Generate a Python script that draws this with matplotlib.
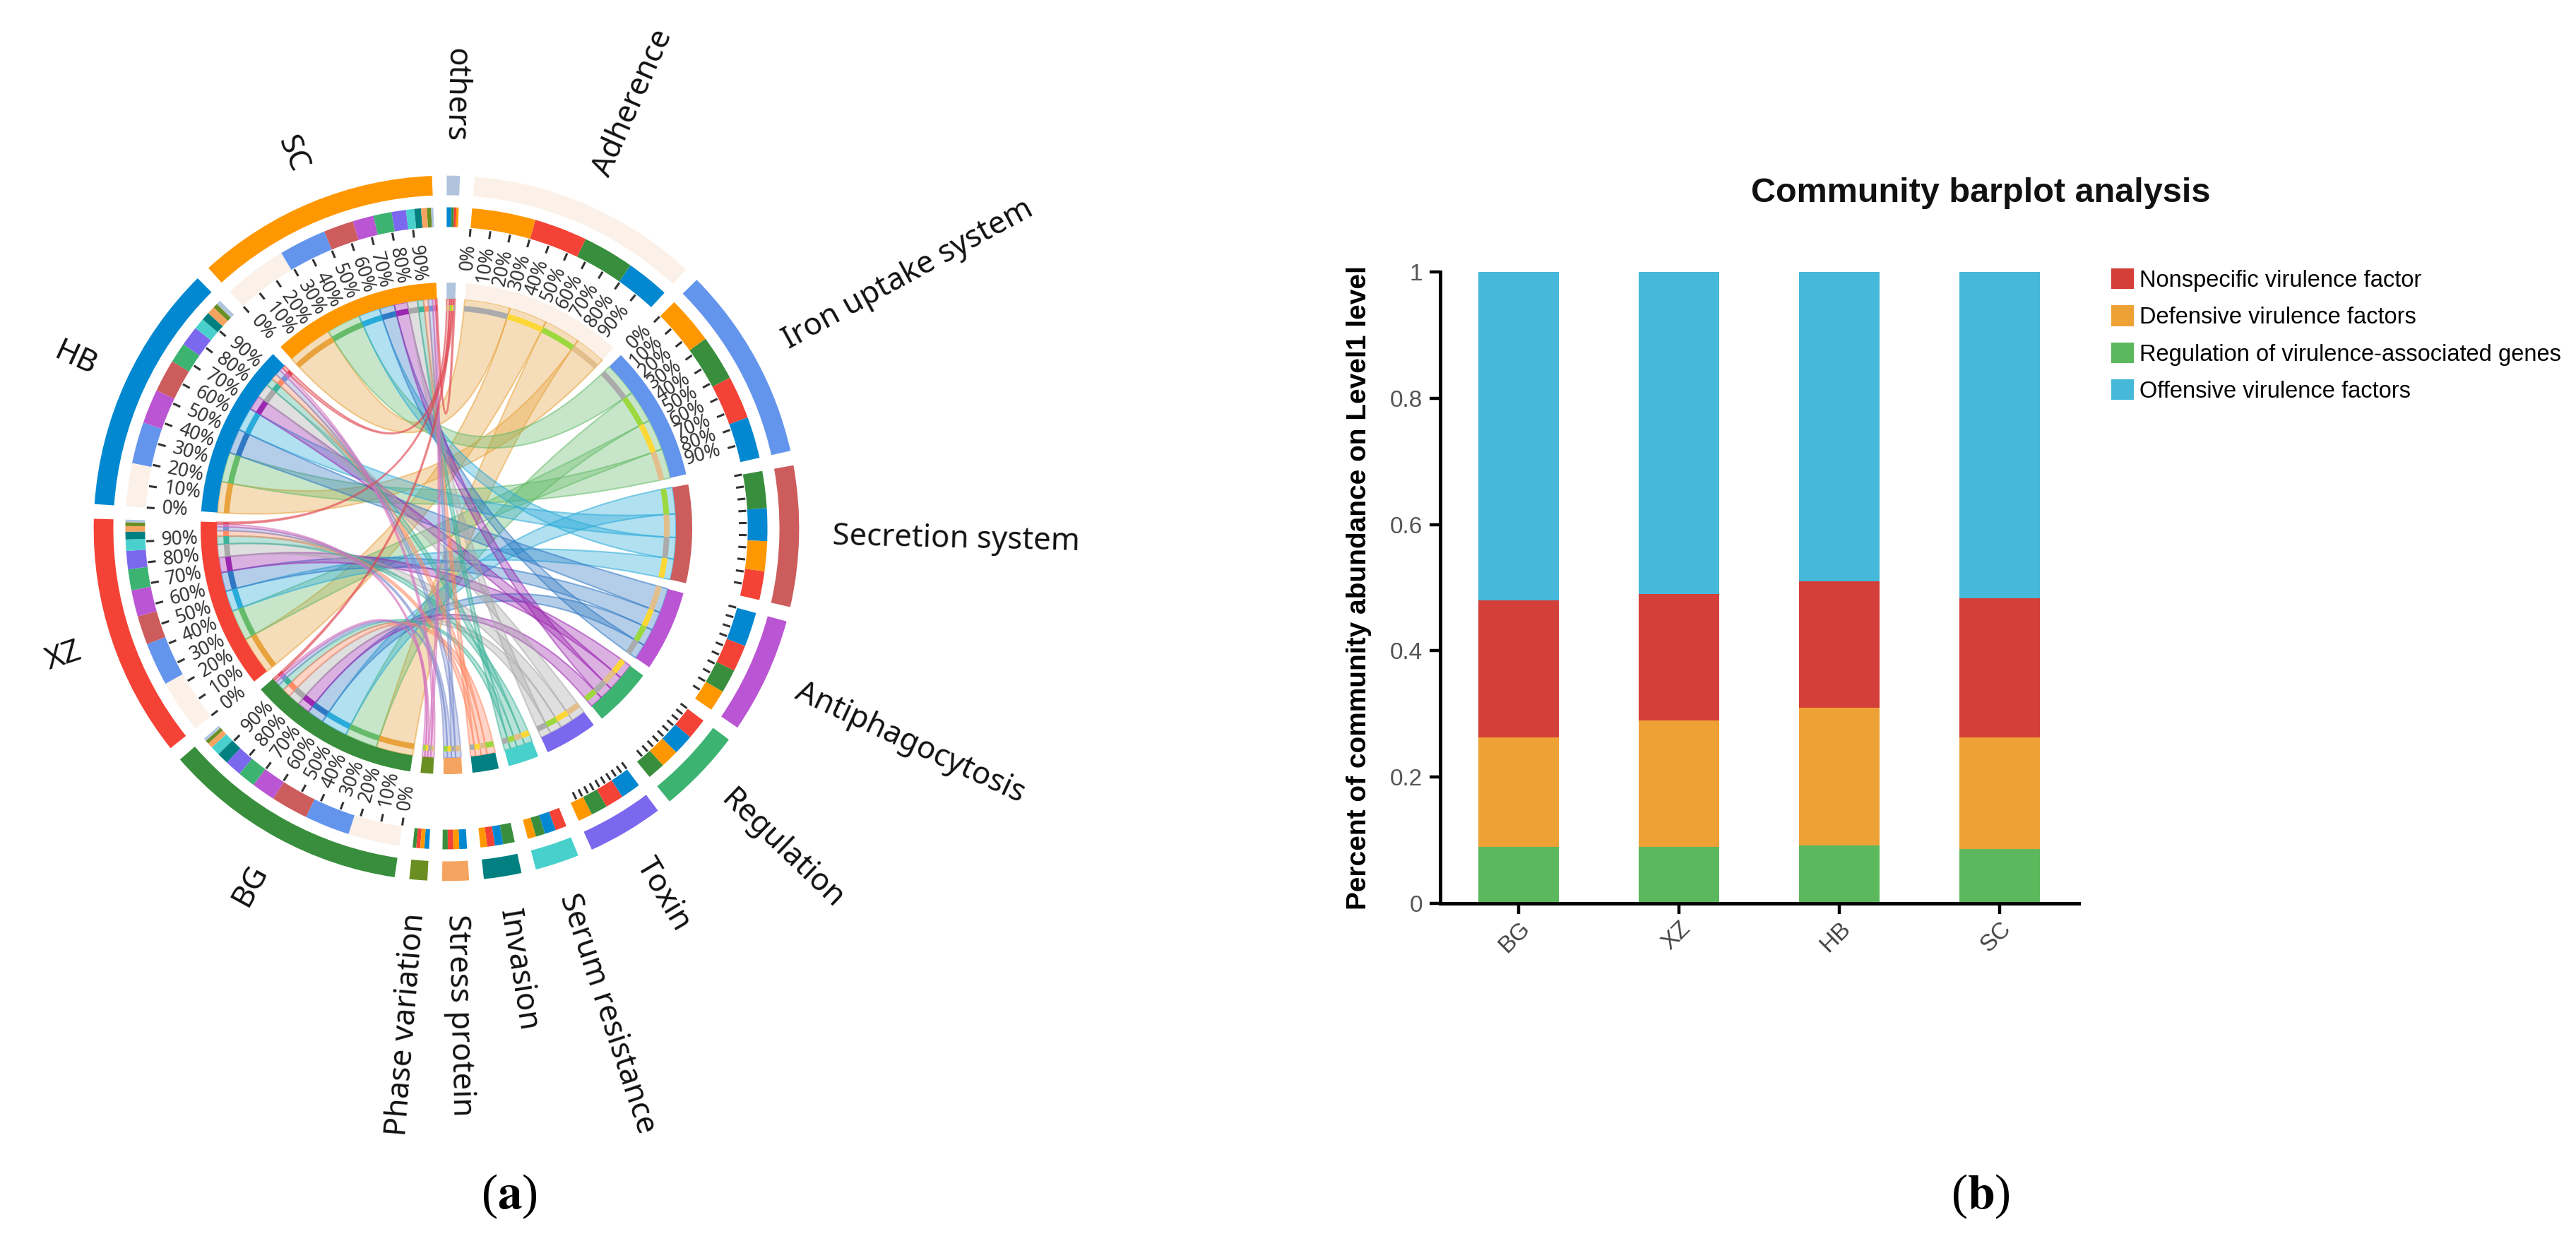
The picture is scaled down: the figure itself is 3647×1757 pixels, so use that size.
import matplotlib
matplotlib.use("Agg")
import matplotlib.pyplot as plt
import numpy as np
from matplotlib.colors import to_rgba
from matplotlib.patches import Wedge, PathPatch
from matplotlib.path import Path

W, H = 3648, 1757

# chord panel data, abundance of each function per sample
samples = ["BG", "XZ", "HB", "SC"]
categories = ["Adherence", "Iron uptake system", "Secretion system", "Antiphagocytosis",
              "Regulation", "Toxin", "Serum resistance", "Invasion", "Stress protein",
              "Phase variation", "others"]
adherence = [9.3, 9.6, 7.8, 11.5]
iron_uptake = [8.2, 7.8, 7.5, 8.6]
secretion = [6.7, 5.2, 5.9, 5.4]
antiphagocytosis = [4.3, 4.8, 6.2, 3.8]
regulation = [3.2, 3.8, 3.65, 3.3]
toxin = [3.0, 3.3, 3.6, 2.6]
serum = [1.7, 2.05, 2.0, 1.5]
invasion = [2.1, 1.4, 1.5, 1.2]
stress = [0.95, 1.0, 1.4, 1.05]
phase = [0.65, 0.7, 0.85, 0.75]
others = [0.5, 0.45, 0.8, 0.4]
matrix = np.array([adherence, iron_uptake, secretion, antiphagocytosis, regulation, toxin,
                   serum, invasion, stress, phase, others])

sample_colors = ["#388E3C", "#F44336", "#0288D1", "#FF9800"]
sample_strip = ["#9CD83E", "#FDD835", "#E2BE8C", "#ABABAB"]
cat_colors = ["#FBF1E8", "#6495ED", "#CD5C5C", "#BA55D3", "#3CB371", "#7B68EE",
              "#48D1CC", "#008080", "#F4A460", "#6B8E23", "#B0C4DE"]
ribbon_colors = ["#E8A33D", "#66BB6A", "#29ABD9", "#2F78C4", "#9C27B0", "#A8A8A8",
                 "#3DB39A", "#FF8A65", "#7E8FD0", "#D572BE", "#E0444E"]

# bar panel data
bar_samples = ["BG", "XZ", "HB", "SC"]
bar_green = [0.09, 0.09, 0.092, 0.086]
bar_orange = [0.173, 0.2, 0.218, 0.177]
bar_red = [0.217, 0.2, 0.2, 0.22]
bar_blue = [0.52, 0.51, 0.49, 0.517]
bar_names = ["Nonspecific virulence factor", "Defensive virulence factors",
             "Regulation of virulence-associated genes", "Offensive virulence factors"]

plt.rcParams["font.family"] = ["Noto Sans", "DejaVu Sans"]
fig = plt.figure(figsize=(W / 100, H / 100), dpi=100)

# whole figure axes for the chord diagram, data unit = inner band radius
R, cx, cy = 348.0, 632.0, 748.0
ax = fig.add_axes([0, 0, 1, 1])
ax.set_xlim(-cx / R, (W - cx) / R)
ax.set_ylim(-(H - cy) / R, cy / R)
ax.axis("off")

GAP = 2.4
START = 4.6
order_names = categories[:-1] + samples + categories[-1:]
n_cat = len(categories)
scale = (360 - GAP * 15) / (2 * matrix.sum())


def polar(theta, r):
    t = np.radians(theta)
    return r * np.sin(t), r * np.cos(t)


def band(theta0, theta1, r0, r1, color, z=3):
    ax.add_patch(Wedge((0, 0), r1, 90 - theta1, 90 - theta0, width=r1 - r0, facecolor=color,
                       edgecolor="none", zorder=z))


# sector extents, clockwise from the top
spans = {}
pos = START
for name in order_names:
    if name in samples:
        size = matrix[:, samples.index(name)].sum()
    else:
        size = matrix[categories.index(name)].sum()
    spans[name] = (pos, pos + size * scale)
    pos += size * scale + GAP

slots = {}
for i, name in enumerate(categories):
    p0 = spans[name][0]
    for j in np.argsort(-matrix[i]):
        p1 = p0 + matrix[i, j] * scale
        slots[("cat", i, j)] = (p0, p1)
        p0 = p1
for j, name in enumerate(samples):
    p0 = spans[name][0]
    for i in np.argsort(-matrix[:, j]):
        p1 = p0 + matrix[i, j] * scale
        slots[("sam", i, j)] = (p0, p1)
        p0 = p1

# ribbons
RB = 0.934
for i in range(n_cat):
    for j in range(len(samples)):
        a0, a1 = slots[("cat", i, j)]
        b0, b1 = slots[("sam", i, j)]
        verts = []
        codes = []
        for k, t in enumerate(np.linspace(a0, a1, 24)):
            verts.append(polar(t, RB))
            codes.append(Path.MOVETO if k == 0 else Path.LINETO)
        verts += [(0, 0), polar(b0, RB)]
        codes += [Path.CURVE3, Path.CURVE3]
        for t in np.linspace(b0, b1, 24)[1:]:
            verts.append(polar(t, RB))
            codes.append(Path.LINETO)
        verts += [(0, 0), polar(a0, RB)]
        codes += [Path.CURVE3, Path.CURVE3]
        c = ribbon_colors[i]
        ax.add_patch(PathPatch(Path(verts, codes), facecolor=to_rgba(c, 0.36),
                               edgecolor=to_rgba(c, 0.55), lw=1.5, zorder=2))
        band(a0, a1, 0.885, 0.908, sample_strip[j], z=2.5)
        band(b0, b1, 0.885, 0.908, c, z=2.5)

# rings
for i, name in enumerate(categories):
    t0, t1 = spans[name]
    band(t0, t1, 0.934, 1.0, cat_colors[i])
    band(t0, t1, 1.355, 1.435, cat_colors[i])
    for j in range(len(samples)):
        s0, s1 = slots[("cat", i, j)]
        band(s0, s1, 1.226, 1.306, sample_colors[j])
for j, name in enumerate(samples):
    t0, t1 = spans[name]
    band(t0, t1, 0.934, 1.0, sample_colors[j])
    band(t0, t1, 1.355, 1.435, sample_colors[j])
    for i in range(n_cat):
        s0, s1 = slots[("sam", i, j)]
        band(s0, s1, 1.226, 1.306, cat_colors[i])

# percent ticks
tick_sectors = samples + categories[:6]
label_sectors = samples + categories[:2]
pcts = np.arange(0, 100, 10)
for name in tick_sectors:
    t0, t1 = spans[name]
    for p in pcts:
        t = t0 + (t1 - t0) * p / 100
        x0, y0 = polar(t, 1.19)
        x1, y1 = polar(t, 1.222)
        ax.plot([x0, x1], [y0, y1], color="#333333", lw=2.2, solid_capstyle="butt", zorder=3)
        if name in label_sectors:
            x, y = polar(t, 1.16)
            if t < 180:
                ax.text(x, y, f"{p}%", rotation=90 - t, ha="right", va="center",
                        rotation_mode="anchor", fontsize=19, color="#333333")
            else:
                ax.text(x, y, f"{p}%", rotation=270 - t, ha="left", va="center",
                        rotation_mode="anchor", fontsize=19, color="#333333")

# sector names
for name in order_names:
    t = sum(spans[name]) / 2
    x, y = polar(t, 1.57)
    if t < 180:
        ax.text(x, y, name, rotation=90 - t, ha="left", va="center",
                rotation_mode="anchor", fontsize=31.5, color="#111111")
    else:
        ax.text(x, y, name, rotation=270 - t, ha="right", va="center",
                rotation_mode="anchor", fontsize=31.5, color="#111111")

# stacked bars
bx = fig.add_axes([2039 / W, 1 - 1279 / H, (2943 - 2039) / W, (1279 - 385) / H])
xs = np.arange(len(bar_samples))
stack = [bar_green, bar_orange, bar_red, bar_blue]
bar_cols = ["#5CB85C", "#EEA236", "#D43F3A", "#46B8DA"]
bottom = np.zeros(4)
handles = {}
for vals, col, nm in zip(stack, bar_cols, [bar_names[2], bar_names[1], bar_names[0], bar_names[3]]):
    handles[nm] = bx.bar(xs, vals, 0.5, bottom=bottom, color=col, label=nm)
    bottom = bottom + np.array(vals)
bx.set_xlim(-0.489, 3.493)
bx.set_ylim(0, 1)
for s in ["top", "right"]:
    bx.spines[s].set_visible(False)
for s in ["left", "bottom"]:
    bx.spines[s].set_linewidth(3.6)
bx.set_xticks(xs)
bx.set_xticklabels(bar_samples, rotation=45, ha="right", rotation_mode="anchor",
                   fontsize=24, family="Liberation Sans", color="#444444")
bx.set_yticks([0, 0.2, 0.4, 0.6, 0.8, 1])
bx.set_yticklabels(["0", "0.2", "0.4", "0.6", "0.8", "1"], fontsize=24,
                   family="Liberation Sans", color="#555555")
bx.tick_params(length=11, width=3.2)
bx.tick_params(axis="y", pad=7)
bx.set_ylabel("Percent of community abundance on Level1 level", fontsize=28,
              fontweight="bold", family="Liberation Sans")
bx.yaxis.set_label_coords((1942 - 2039) / (2943 - 2039), 0.5)
fig.text(2804 / W, 1 - 274 / H, "Community barplot analysis", ha="center", va="center",
         fontsize=35, fontweight="bold", family="Liberation Sans", color="#111111")
bx.legend([handles[n] for n in bar_names], bar_names, loc="upper left",
          bbox_to_anchor=(2989 / W, 1 - 380 / H), bbox_transform=fig.transFigure, frameon=False,
          prop={"family": "Liberation Sans", "size": 23.5}, handlelength=0.98, handleheight=1.0,
          labelspacing=0.6, handletextpad=0.25, borderaxespad=0, borderpad=0)

# panel labels
for px, letter in [(721, "a"), (2804, "b")]:
    fig.text(px / W, 1 - 1694 / H, r"($\mathbf{" + letter + r"}$)", ha="center", va="center",
             fontsize=50, family="Liberation Serif", math_fontfamily="stix")

fig.savefig("out.png", dpi=100)
